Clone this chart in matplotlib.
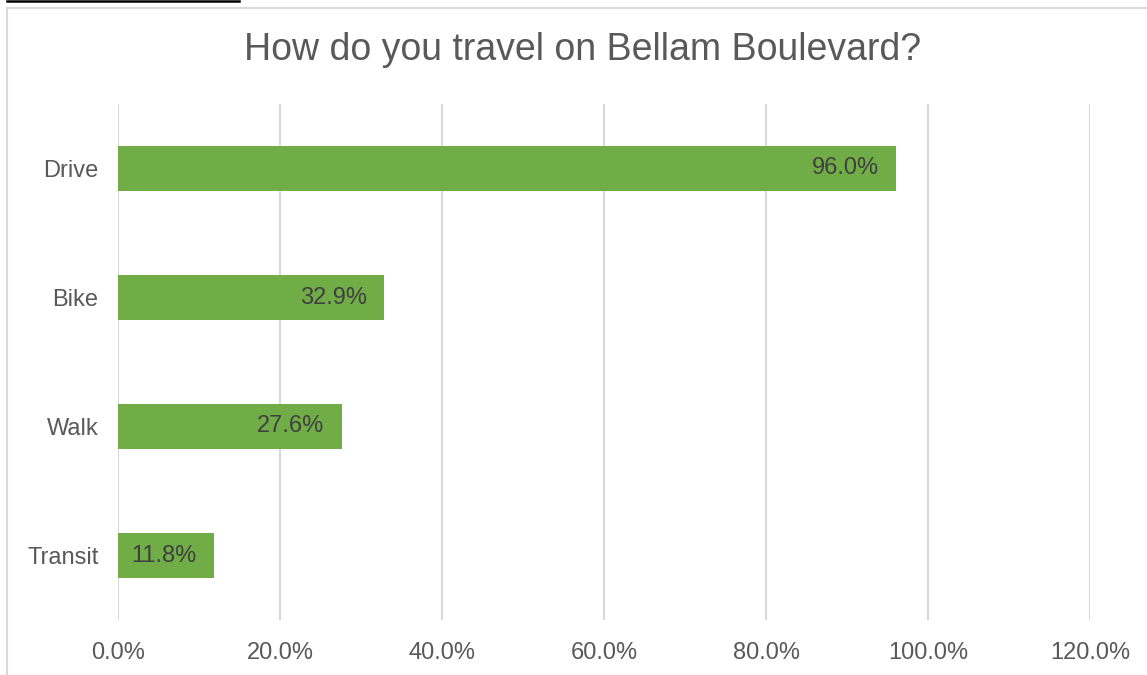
import matplotlib
matplotlib.use("Agg")
import matplotlib.pyplot as plt
from matplotlib.patches import Rectangle
from matplotlib.lines import Line2D

categories = ["Drive", "Bike", "Walk", "Transit"]
values = [96.0, 32.9, 27.6, 11.8]
xticks = [0, 20, 40, 60, 80, 100, 120]
xtick_labels = ["0.0%", "20.0%", "40.0%", "60.0%", "80.0%", "100.0%", "120.0%"]
title = "How do you travel on Bellam Boulevard?"

W, H = 1147, 675
plt.rcParams['font.family'] = ['Liberation Sans', 'DejaVu Sans']
fig = plt.figure(figsize=(W / 100, H / 100), dpi=100)

# chart border (cropped at right/bottom)
fig.patches.append(Rectangle((7 / W, -0.1), 1.2, 1 - 8 / H + 0.1, transform=fig.transFigure,
                             fill=False, edgecolor="#D9D9D9", linewidth=1.5))
fig.lines.append(Line2D([7 / W, 239 / W], [1 - 1 / H, 1 - 1 / H], transform=fig.transFigure,
                        color="black", linewidth=1.8))

left, right, top, bottom = 118, 1090, 104, 620
ax = fig.add_axes([left / W, 1 - bottom / H, (right - left) / W, (bottom - top) / H])

ypos = list(range(len(categories)))
ax.barh(ypos, values, height=0.35, color="#70AD47", zorder=3)
ax.set_ylim(len(categories) - 0.5, -0.5)
ax.set_xlim(0, 120)
ax.set_yticks(ypos)
ax.set_yticklabels(categories, fontsize=17, color="#595959")
ax.set_xticks(xticks)
ax.set_xticklabels(xtick_labels, fontsize=17, color="#595959")
ax.tick_params(axis='both', length=0)
ax.tick_params(axis='y', pad=14)
ax.tick_params(axis='x', pad=16)
ax.grid(axis='x', color="#D9D9D9", linewidth=1.5, zorder=0)
for s in ax.spines.values():
    s.set_visible(False)

for y, v in zip(ypos, values):
    ax.annotate(f"{v:.1f}%", xy=(v, y), xytext=(-17, 0), textcoords="offset pixels",
                ha="right", va="center", fontsize=17, color="#404040", zorder=4)

fig.text(583 / W, 1 - 50 / H, title, ha="center", va="center", fontsize=27, color="#595959")

fig.savefig("out.png", dpi=100)
